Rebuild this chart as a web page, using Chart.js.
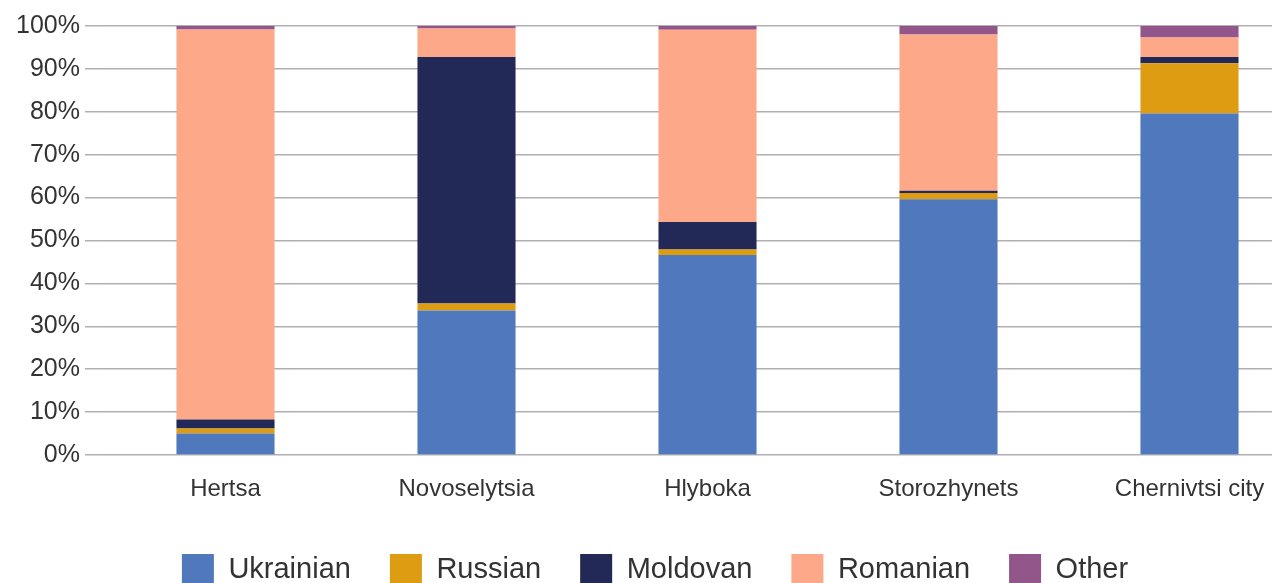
<!DOCTYPE html>
<html>
<head>
<meta charset="utf-8">
<script src="https://cdn.jsdelivr.net/npm/chart.js@4.4.0/dist/chart.umd.min.js"></script>
<style>
    html, body { margin: 0; padding: 0; background: #fff; overflow: hidden; }
    #wrap { width: 1312px; height: 583px; position: relative; }
</style>
</head>
<body>
<div id="wrap"><canvas id="ethnicChart"></canvas></div>
<script>
// data
const districts = ['Hertsa', 'Novoselytsia', 'Hlyboka', 'Storozhynets', 'Chernivtsi city'];
const ukrainian = [5.0, 33.7, 46.6, 59.6, 79.6];
const russian   = [1.2, 1.6, 1.3, 1.5, 11.7];
const moldovan  = [2.1, 57.5, 6.4, 0.5, 1.5];
const romanian  = [90.9, 6.6, 44.8, 36.4, 4.5];
const other     = [0.8, 0.6, 0.9, 2.0, 2.7];
const yTicks = [0, 10, 20, 30, 40, 50, 60, 70, 80, 90, 100];

const fontFamily = '"Liberation Sans", Arial, sans-serif';
const textColor = '#333333';

const chartData = {
    labels: districts,
    datasets: [
        { label: 'Ukrainian', data: ukrainian, backgroundColor: '#5079bd' },
        { label: 'Russian', data: russian, backgroundColor: '#dd9c11' },
        { label: 'Moldovan', data: moldovan, backgroundColor: '#222957' },
        { label: 'Romanian', data: romanian, backgroundColor: '#fea88a' },
        { label: 'Other', data: other, backgroundColor: '#93568a' }
    ]
};

// config
const config = {
    type: 'bar',
    data: chartData,
    options: {
        responsive: true,
        maintainAspectRatio: false,
        animation: false,
        layout: { padding: { top: 26, left: 0, right: 2, bottom: -12 } },
        datasets: {
            bar: { barPercentage: 1, categoryPercentage: 0.407, borderWidth: 0 }
        },
        scales: {
            x: {
                stacked: true,
                grid: { display: false, drawTicks: false },
                border: { display: false },
                ticks: {
                    color: textColor,
                    font: { family: fontFamily, size: 24 },
                    padding: 20,
                    maxRotation: 0,
                    autoSkip: false
                },
                afterFit: (scale) => { scale.height = 60; }
            },
            y: {
                stacked: true,
                min: 0,
                max: 100,
                afterBuildTicks: (scale) => { scale.ticks = yTicks.map(v => ({ value: v })); },
                grid: {
                    color: '#b3aeb1',
                    lineWidth: 1.5,
                    drawTicks: true,
                    tickLength: 20
                },
                border: { display: false },
                ticks: {
                    color: textColor,
                    font: { family: fontFamily, size: 25 },
                    padding: 5,
                    callback: (v) => v + '%'
                },
                afterFit: (scale) => { scale.width = 105; }
            }
        },
        plugins: {
            tooltip: { enabled: false },
            legend: {
                position: 'bottom',
                labels: {
                    color: textColor,
                    font: { family: fontFamily, size: 29 },
                    boxWidth: 32,
                    boxHeight: 31,
                    padding: 39
                }
            }
        }
    }
};

const ctx = document.getElementById('ethnicChart').getContext('2d');
const ethnicChart = new Chart(ctx, config);
</script>
</body>
</html>
